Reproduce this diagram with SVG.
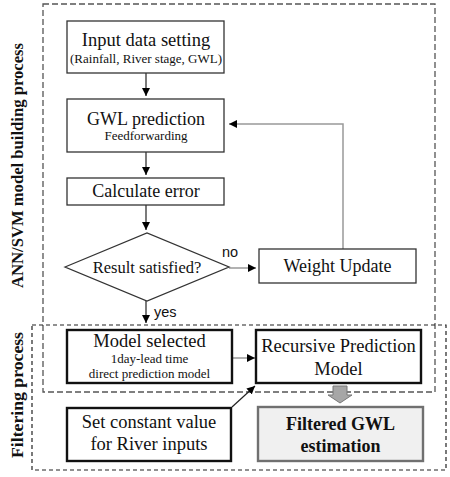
<svg xmlns="http://www.w3.org/2000/svg" width="450" height="477" viewBox="0 0 450 477">
<style>
.box{fill:#fff;stroke:#333;stroke-width:1.3}
.thick{fill:#fff;stroke:#111;stroke-width:2.4}
.t{font-family:"Liberation Serif","Times New Roman",serif;fill:#111;text-anchor:middle}
.s{font-family:"Liberation Sans",Arial,sans-serif;fill:#111}
.b{font-weight:bold}
.dk{fill:none;stroke:#222;stroke-width:1.2}
.gr{fill:none;stroke:#999;stroke-width:1.5}
</style>
<defs>
<marker id="ah" viewBox="0 0 10 10" refX="10" refY="5" markerWidth="8" markerHeight="8" markerUnits="userSpaceOnUse" orient="auto">
<path d="M0,0 L10,5 L0,10 Z" fill="#000"/>
</marker>
</defs>
<rect x="0" y="0" width="450" height="477" fill="#fff"/>
<g id="group-ann">
<rect x="43" y="4" width="392" height="388" fill="none" stroke="#555" stroke-width="1.3" stroke-dasharray="6,3"/>
<text class="t b" transform="translate(23,165.5) rotate(-90)" font-size="17" textLength="245" lengthAdjust="spacingAndGlyphs">ANN/SVM model building process</text>
</g>
<g id="group-filter">
<rect x="32" y="325" width="414" height="145" fill="none" stroke="#222" stroke-width="1.2" stroke-dasharray="4,3"/>
<text class="t b" transform="translate(23,395) rotate(-90)" font-size="17" textLength="126" lengthAdjust="spacingAndGlyphs">Filtering process</text>
</g>
<g id="connectors">
<line class="dk" x1="146" y1="73" x2="146" y2="96" marker-end="url(#ah)"/>
<line class="dk" x1="146" y1="152" x2="146" y2="175" marker-end="url(#ah)"/>
<line class="dk" x1="146" y1="205" x2="146" y2="230" marker-end="url(#ah)"/>
<line class="gr" x1="229" y1="268" x2="256" y2="268" marker-end="url(#ah)"/>
<polyline class="gr" points="343,249 343,124 229,124" marker-end="url(#ah)"/>
<line class="dk" x1="146" y1="301" x2="146" y2="323" marker-end="url(#ah)"/>
<line class="gr" x1="232" y1="358" x2="255" y2="358" marker-end="url(#ah)"/>
<line class="dk" x1="232" y1="407" x2="255" y2="386" marker-end="url(#ah)"/>
<polygon points="333,386 347,386 347,395 352,395 340,403 328,395 333,395" fill="#a6a6a6" stroke="#777" stroke-width="1"/>
<text class="s" x="222" y="257" font-size="14.5">no</text>
<text class="s" x="154" y="317" font-size="14.5">yes</text>
</g>
<g id="node-input">
<rect class="box" x="67" y="21" width="157" height="52"/>
<text class="t" x="146" y="46" font-size="18.5">Input data setting</text>
<text class="t" x="146" y="63" font-size="13">(Rainfall, River stage, GWL)</text>
</g>
<g id="node-gwl">
<rect class="box" x="67" y="99" width="157" height="53"/>
<text class="t" x="146" y="125" font-size="18">GWL prediction</text>
<text class="t" x="146" y="140" font-size="13">Feedforwarding</text>
</g>
<g id="node-calc">
<rect class="box" x="67" y="178" width="157" height="27"/>
<text class="t" x="146" y="197" font-size="18">Calculate error</text>
</g>
<g id="node-result">
<polygon class="box" points="65,267 147,233 229,267 147,301"/>
<text class="t" x="147" y="273" font-size="16.5">Result satisfied?</text>
</g>
<g id="node-weight">
<rect class="box" x="259" y="249" width="157" height="34"/>
<text class="t" x="337.5" y="272" font-size="18">Weight Update</text>
</g>
<g id="node-model">
<rect class="thick" x="67" y="330" width="165" height="53"/>
<text class="t" x="149.5" y="347" font-size="18.5">Model selected</text>
<text class="t" x="149.5" y="363" font-size="13">1day-lead time</text>
<text class="t" x="149.5" y="378" font-size="13">direct prediction model</text>
</g>
<g id="node-recursive">
<rect class="thick" x="256" y="330" width="165" height="53"/>
<text class="t" x="338.5" y="352" font-size="18.5">Recursive Prediction</text>
<text class="t" x="338.5" y="375" font-size="18.5">Model</text>
</g>
<g id="node-constant">
<rect class="thick" x="67" y="408" width="164" height="53"/>
<text class="t" x="149" y="428" font-size="18.5">Set constant value</text>
<text class="t" x="149" y="450" font-size="18.5">for River inputs</text>
</g>
<g id="node-filtered">
<rect x="258" y="407" width="165" height="54" fill="#f0f0f0" stroke="#707070" stroke-width="2.4"/>
<text class="t b" x="340.5" y="430" font-size="18">Filtered GWL</text>
<text class="t b" x="340.5" y="452" font-size="18">estimation</text>
</g>
</svg>
